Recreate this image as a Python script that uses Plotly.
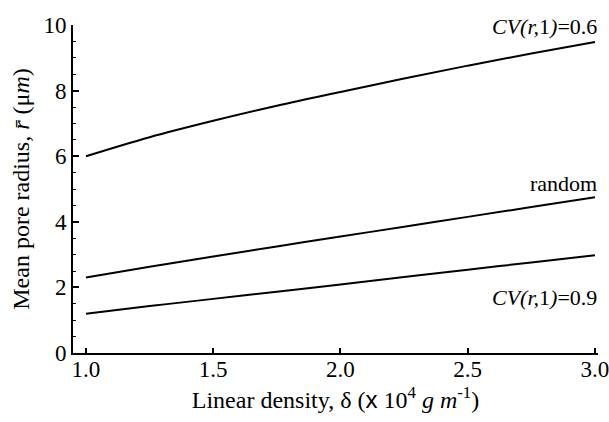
import plotly.graph_objects as go

density = [1.0, 1.25, 1.5, 1.75, 2.0, 2.25, 2.5, 2.75, 3.0]
cv06 = [6.0, 6.58, 7.08, 7.54, 7.96, 8.37, 8.76, 9.13, 9.48]
random_ = [2.3, 2.63, 2.94, 3.25, 3.55, 3.85, 4.15, 4.45, 4.75]
cv09 = [1.2, 1.43, 1.65, 1.87, 2.09, 2.32, 2.54, 2.76, 2.98]

x_ticks = [1.0, 1.5, 2.0, 2.5, 3.0]
x_ticklabels = ["1.0", "1.5", "2.0", "2.5", "3.0"]
y_ticks = [0, 2, 4, 6, 8, 10]

FONT = "Liberation Serif"

fig = go.Figure()
for ys in (cv06, random_, cv09):
    fig.add_trace(go.Scatter(x=density, y=ys, mode="lines",
                             line=dict(color="black", width=2, shape="spline"),
                             showlegend=False, hoverinfo="skip"))

fig.update_layout(
    width=609, height=422,
    margin=dict(l=73, r=11, t=25, b=69, autoexpand=False),
    paper_bgcolor="white", plot_bgcolor="white",
    font=dict(family=FONT, color="black", size=23),
)
fig.update_xaxes(
    range=[0.949, 3.012], showgrid=False, zeroline=False, automargin=False,
    showline=True, linecolor="black", linewidth=2,
    tickmode="array", tickvals=x_ticks, ticktext=x_ticklabels,
    ticks="inside", ticklen=5, tickwidth=1.5, tickcolor="black",
    tickfont=dict(size=23, family=FONT),
    ticklabeloverflow="allow", ticklabelstandoff=-6,
    title=dict(text="Linear density, δ (<span style='font-family:Liberation Sans'>x</span> 10<sup>4</sup> <i>g m</i><sup>-1</sup>)",
               font=dict(size=24, family=FONT), standoff=11),
)
fig.update_yaxes(
    range=[0, 10], showgrid=False, zeroline=False, automargin=False,
    showline=True, linecolor="black", linewidth=2,
    tickmode="array", tickvals=y_ticks,
    ticks="inside", ticklen=6, tickwidth=1.5, tickcolor="black",
    minor=dict(dtick=0.5, ticks="inside", ticklen=3, tickwidth=1, tickcolor="black", showgrid=False),
    tickfont=dict(size=23, family=FONT),
    title=dict(text="Mean pore radius, <i>r̄</i> (μ<i>m</i>)", font=dict(size=24, family=FONT), standoff=7),
)

fig.add_annotation(x=3.0, y=cv06[-1], xref="x", yref="y", text="<i>CV(r,</i>1<i>)</i>=0.6",
                   showarrow=False, xanchor="right", yanchor="middle", yshift=16, xshift=4,
                   font=dict(size=22, family=FONT))
fig.add_annotation(x=3.0, y=random_[-1], xref="x", yref="y", text="random",
                   showarrow=False, xanchor="right", yanchor="middle", yshift=14, xshift=4,
                   font=dict(size=22, family=FONT))
fig.add_annotation(x=3.0, y=cv09[-1], xref="x", yref="y", text="<i>CV(r,</i>1<i>)</i>=0.9",
                   showarrow=False, xanchor="right", yanchor="middle", yshift=-42, xshift=4,
                   font=dict(size=22, family=FONT))

fig.write_html("out.html")
